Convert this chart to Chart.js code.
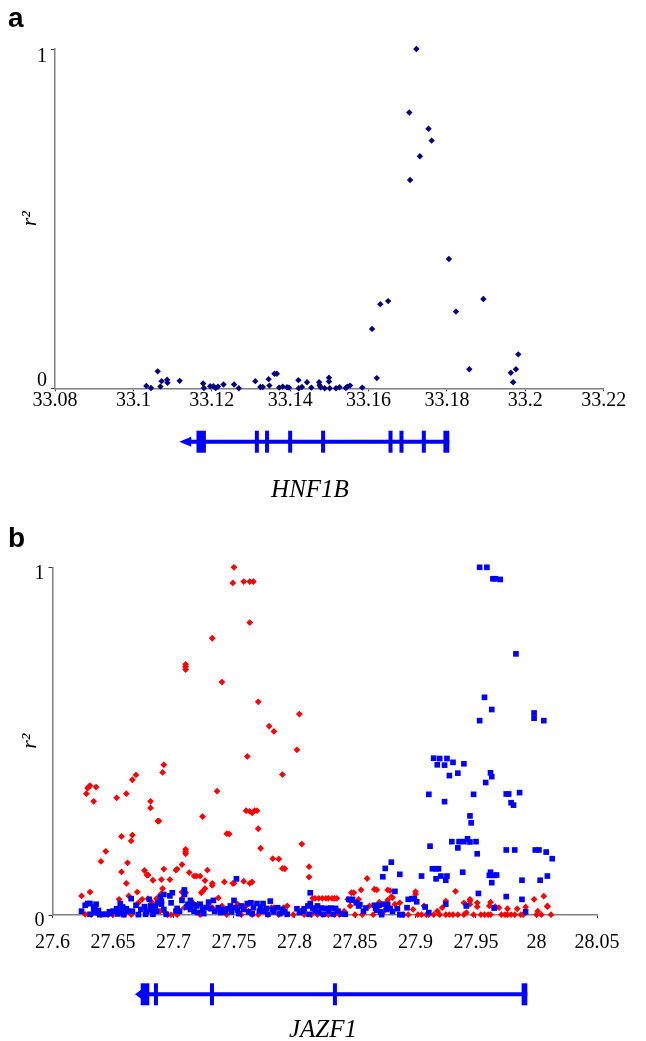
<!DOCTYPE html>
<html>
<head>
<meta charset="utf-8">
<script src="https://cdn.jsdelivr.net/npm/chart.js@4.4.1/dist/chart.umd.min.js"></script>
<style>
  body { margin: 0; background: #fff; }
  #wrap { position: relative; width: 646px; height: 1041px; overflow: hidden; }
  canvas { position: absolute; left: 0; }
  .panel { position: absolute; left: 8px; font: bold 28px "Liberation Sans", Arial, sans-serif; line-height: 28px; }
  .gene { position: absolute; font: italic 25px "Liberation Serif", "Times New Roman", serif; line-height: 25px; transform: translateX(-50%); white-space: nowrap; }
</style>
</head>
<body>
<div id="wrap">
  <canvas id="chart-a" width="646" height="520" style="top:0"></canvas>
  <canvas id="chart-b" width="646" height="521" style="top:520px"></canvas>
  <div class="panel" style="top:4px">a</div>
  <div class="panel" style="top:524px">b</div>
  <div class="gene" style="left:310px;top:476px">HNF1B</div>
  <div class="gene" style="left:323px;top:1016px">JAZF1</div>
</div>
<script>
const SERIF = "'Liberation Serif', 'Times New Roman', serif";
Chart.defaults.font.family = SERIF;
Chart.defaults.color = '#000';

// ---- panel a: HNF1B region (position in Mb, r2) ----
const hnf1bTicks = [33.08, 33.1, 33.12, 33.14, 33.16, 33.18, 33.2, 33.22];
const hnf1bPts = [
  [33.1722, 1.0], [33.1704, 0.813], [33.1753, 0.765], [33.1761, 0.730], [33.1731, 0.684], [33.1706, 0.614],
  [33.1805, 0.381], [33.1893, 0.263], [33.1823, 0.226], [33.1650, 0.257], [33.1630, 0.248], [33.1609, 0.175],
  [33.1621, 0.030], [33.1857, 0.056], [33.1982, 0.100], [33.1976, 0.056], [33.1963, 0.046], [33.1969, 0.018],
  [33.1584, 0.002], [33.1033, 0.007], [33.1045, 0.001], [33.1062, 0.050], [33.1069, 0.005], [33.1072, 0.021],
  [33.1086, 0.025], [33.1087, 0.016], [33.1118, 0.022], [33.1178, 0.014], [33.1180, 0.001], [33.1196, 0.006],
  [33.1204, 0.006], [33.1210, 0.001], [33.1216, 0.005], [33.1230, 0.011], [33.1257, 0.011], [33.1269, 0.000],
  [33.1311, 0.021], [33.1324, 0.004], [33.1330, 0.004], [33.1345, 0.027], [33.1347, 0.008], [33.1360, 0.043],
  [33.1366, 0.043], [33.1372, 0.002], [33.1381, 0.005], [33.1392, 0.003], [33.1397, 0.002], [33.1421, 0.024],
  [33.1422, 0.000], [33.1430, 0.004], [33.1443, 0.018], [33.1454, 0.002], [33.1474, 0.018], [33.1475, 0.009],
  [33.1478, 0.003], [33.1488, 0.000], [33.1499, 0.031], [33.1499, 0.020], [33.1501, 0.000], [33.1517, 0.000],
  [33.1526, 0.003], [33.1542, 0.001], [33.1546, 0.005], [33.1553, 0.008]
];
const hnf1bSpan = [33.1117, 33.1806];           // arrow tip .. 3' end
const hnf1bBlocks = [[33.1161, 33.1185], [33.1791, 33.1806]];
const hnf1bExons = [33.1315, 33.1341, 33.1400, 33.1484, 33.1656, 33.1684, 33.1741];

// ---- panel b: JAZF1 region ----
const jazf1Ticks = [27.6, 27.65, 27.7, 27.75, 27.8, 27.85, 27.9, 27.95, 28, 28.05];
const redPts = [
  [27.750, 1.000], [27.749, 0.955], [27.758, 0.959], [27.763, 0.959], [27.766, 0.959], [27.763, 0.841],
  [27.732, 0.796], [27.710, 0.721], [27.710, 0.714], [27.710, 0.706], [27.740, 0.670], [27.770, 0.613],
  [27.804, 0.578], [27.779, 0.543], [27.783, 0.528], [27.802, 0.475], [27.761, 0.456], [27.692, 0.432],
  [27.691, 0.410], [27.669, 0.403], [27.666, 0.389], [27.790, 0.404], [27.630, 0.369], [27.629, 0.365],
  [27.628, 0.349], [27.631, 0.372], [27.636, 0.368], [27.634, 0.327], [27.653, 0.337], [27.661, 0.349],
  [27.736, 0.356], [27.681, 0.327], [27.681, 0.308], [27.687, 0.270], [27.688, 0.270], [27.724, 0.283],
  [27.760, 0.300], [27.763, 0.298], [27.765, 0.294], [27.767, 0.300], [27.769, 0.300], [27.770, 0.248],
  [27.744, 0.234], [27.746, 0.233], [27.657, 0.226], [27.666, 0.230], [27.665, 0.213], [27.644, 0.183],
  [27.710, 0.189], [27.710, 0.182], [27.710, 0.176], [27.806, 0.204], [27.772, 0.192], [27.640, 0.154],
  [27.662, 0.150], [27.782, 0.162], [27.787, 0.161], [27.707, 0.145], [27.790, 0.134], [27.792, 0.133],
  [27.812, 0.139], [27.657, 0.124], [27.676, 0.128], [27.678, 0.115], [27.679, 0.115], [27.692, 0.132],
  [27.702, 0.129], [27.703, 0.132], [27.713, 0.122], [27.717, 0.112], [27.719, 0.112], [27.722, 0.112],
  [27.728, 0.129], [27.661, 0.091], [27.683, 0.100], [27.690, 0.102], [27.697, 0.102], [27.726, 0.099],
  [27.732, 0.091], [27.732, 0.085], [27.742, 0.095], [27.749, 0.091], [27.750, 0.091], [27.758, 0.097],
  [27.763, 0.091], [27.765, 0.095], [27.812, 0.109], [27.860, 0.105], [27.624, 0.055], [27.631, 0.066],
  [27.663, 0.055], [27.670, 0.066], [27.691, 0.076], [27.707, 0.066], [27.710, 0.064], [27.723, 0.064],
  [27.724, 0.068], [27.726, 0.076], [27.737, 0.049], [27.855, 0.072], [27.866, 0.074], [27.868, 0.072],
  [27.877, 0.072], [27.879, 0.070], [27.880, 0.052], [27.847, 0.064], [27.849, 0.064], [27.900, 0.067],
  [27.900, 0.060], [27.933, 0.068], [27.815, 0.048], [27.817, 0.048], [27.820, 0.048], [27.823, 0.048],
  [27.826, 0.048], [27.828, 0.048], [27.831, 0.048], [27.833, 0.048], [27.835, 0.048], [27.925, 0.040],
  [27.945, 0.045], [27.945, 0.040], [27.940, 0.035], [27.951, 0.035], [27.962, 0.037], [27.966, 0.024],
  [27.961, 0.026], [27.998, 0.045], [28.006, 0.054], [28.009, 0.024], [27.991, 0.023], [27.984, 0.018],
  [27.976, 0.018],
  [27.627, 0.002], [27.632, 0.001], [27.636, 0.007], [27.640, 0.001], [27.646, 0.001], [27.650, 0.001],
  [27.655, 0.045], [27.656, 0.021], [27.659, 0.001], [27.665, 0.001], [27.671, 0.035], [27.674, 0.045],
  [27.676, 0.021], [27.679, 0.047], [27.682, 0.037], [27.684, 0.007], [27.686, 0.047], [27.689, 0.011],
  [27.690, 0.062], [27.692, 0.011], [27.695, 0.001], [27.698, 0.001], [27.703, 0.001], [27.707, 0.047],
  [27.709, 0.021], [27.713, 0.026], [27.716, 0.035], [27.720, 0.031], [27.722, 0.001], [27.725, 0.021],
  [27.729, 0.026], [27.732, 0.021], [27.735, 0.011], [27.740, 0.026], [27.744, 0.001], [27.748, 0.021],
  [27.753, 0.031], [27.756, 0.001], [27.760, 0.026], [27.762, 0.011], [27.765, 0.001], [27.770, 0.001],
  [27.772, 0.021], [27.775, 0.011], [27.778, 0.001], [27.781, 0.021], [27.783, 0.021], [27.787, 0.001],
  [27.791, 0.021], [27.794, 0.026], [27.799, 0.001], [27.805, 0.011], [27.808, 0.001], [27.814, 0.001],
  [27.819, 0.001], [27.823, 0.001], [27.828, 0.001], [27.833, 0.001], [27.837, 0.001], [27.841, 0.011],
  [27.844, 0.045], [27.846, 0.026], [27.850, 0.001], [27.853, 0.045], [27.856, 0.001], [27.862, 0.026],
  [27.865, 0.001], [27.870, 0.037], [27.874, 0.011], [27.877, 0.043], [27.881, 0.050], [27.883, 0.031],
  [27.887, 0.035], [27.890, 0.001], [27.894, 0.001], [27.898, 0.016], [27.902, 0.001], [27.905, 0.001],
  [27.907, 0.026], [27.909, 0.001], [27.911, 0.001], [27.915, 0.001], [27.918, 0.011], [27.920, 0.001],
  [27.922, 0.021], [27.925, 0.001], [27.928, 0.001], [27.931, 0.001], [27.935, 0.001], [27.940, 0.001],
  [27.942, 0.007], [27.945, 0.031], [27.948, 0.001], [27.951, 0.024], [27.954, 0.001], [27.957, 0.001],
  [27.960, 0.001], [27.962, 0.001], [27.965, 0.021], [27.969, 0.021], [27.971, 0.001], [27.974, 0.001],
  [27.976, 0.001], [27.979, 0.001], [27.982, 0.001], [27.987, 0.001], [27.989, 0.001], [28.000, 0.001],
  [28.001, 0.011], [28.004, 0.001], [28.009, 0.026], [28.012, 0.001]
];
const bluePts = [
  [27.953, 1.000], [27.959, 1.000], [27.964, 0.967], [27.966, 0.967], [27.970, 0.965], [27.983, 0.751],
  [27.957, 0.626], [27.963, 0.591], [27.953, 0.559], [27.998, 0.581], [27.998, 0.566], [28.006, 0.559],
  [27.915, 0.451], [27.920, 0.450], [27.926, 0.450], [27.918, 0.432], [27.924, 0.431], [27.931, 0.439],
  [27.940, 0.435], [27.928, 0.401], [27.935, 0.408], [27.962, 0.409], [27.963, 0.398], [27.958, 0.381],
  [27.911, 0.347], [27.948, 0.347], [27.975, 0.348], [27.977, 0.348], [27.986, 0.352], [27.924, 0.326],
  [27.979, 0.323], [27.981, 0.316], [27.945, 0.285], [27.946, 0.265], [27.912, 0.198], [27.930, 0.211],
  [27.936, 0.211], [27.940, 0.211], [27.943, 0.219], [27.945, 0.210], [27.950, 0.211], [27.935, 0.193],
  [27.951, 0.176], [27.975, 0.187], [27.982, 0.187], [27.999, 0.187], [28.002, 0.187], [28.008, 0.181],
  [28.013, 0.162], [27.880, 0.152], [27.875, 0.134], [27.887, 0.117], [27.873, 0.110], [27.905, 0.112],
  [27.914, 0.133], [27.917, 0.133], [27.919, 0.133], [27.917, 0.104], [27.921, 0.112], [27.926, 0.112],
  [27.925, 0.100], [27.939, 0.123], [27.962, 0.123], [27.961, 0.114], [27.965, 0.114], [27.967, 0.115],
  [27.963, 0.093], [27.988, 0.100], [28.003, 0.100], [28.009, 0.112], [27.752, 0.104], [27.813, 0.064],
  [27.883, 0.068], [27.975, 0.053], [27.988, 0.045], [27.952, 0.062],
  [27.624, 0.011], [27.627, 0.028], [27.629, 0.033], [27.631, 0.033], [27.631, 0.002], [27.634, 0.018],
  [27.635, 0.024], [27.636, 0.031], [27.635, 0.007], [27.638, 0.013], [27.639, 0.001], [27.642, 0.002],
  [27.644, 0.002], [27.647, 0.009], [27.648, 0.004], [27.650, 0.011], [27.653, 0.018], [27.654, 0.003],
  [27.656, 0.033], [27.657, 0.007], [27.658, 0.023], [27.659, 0.001], [27.661, 0.018], [27.662, 0.011],
  [27.665, 0.047], [27.666, 0.011], [27.669, 0.028], [27.671, 0.001], [27.673, 0.016], [27.676, 0.024],
  [27.677, 0.002], [27.678, 0.011], [27.680, 0.045], [27.681, 0.026], [27.682, 0.016], [27.683, 0.002],
  [27.685, 0.026], [27.686, 0.011], [27.687, 0.035], [27.689, 0.052], [27.690, 0.040], [27.690, 0.031],
  [27.692, 0.059], [27.692, 0.016], [27.694, 0.002], [27.697, 0.055], [27.698, 0.035], [27.699, 0.064],
  [27.702, 0.011], [27.703, 0.019], [27.705, 0.011], [27.707, 0.042], [27.709, 0.072], [27.709, 0.059],
  [27.711, 0.023], [27.712, 0.031], [27.714, 0.042], [27.714, 0.016], [27.716, 0.029], [27.717, 0.011],
  [27.719, 0.026], [27.720, 0.007], [27.722, 0.031], [27.724, 0.016], [27.725, 0.004], [27.727, 0.021],
  [27.729, 0.037], [27.731, 0.018], [27.733, 0.042], [27.734, 0.011], [27.737, 0.021], [27.739, 0.007],
  [27.741, 0.016], [27.743, 0.009], [27.745, 0.018], [27.747, 0.026], [27.748, 0.009], [27.750, 0.042],
  [27.751, 0.021], [27.753, 0.014], [27.754, 0.004], [27.756, 0.026], [27.758, 0.016], [27.761, 0.033],
  [27.762, 0.009], [27.764, 0.035], [27.765, 0.004], [27.766, 0.021], [27.769, 0.033], [27.771, 0.011],
  [27.772, 0.023], [27.774, 0.033], [27.775, 0.011], [27.777, 0.019], [27.778, 0.002], [27.780, 0.040],
  [27.782, 0.016], [27.783, 0.009], [27.786, 0.021], [27.788, 0.004], [27.790, 0.016], [27.792, 0.009],
  [27.794, 0.002], [27.802, 0.018], [27.804, 0.007], [27.807, 0.011], [27.808, 0.018], [27.811, 0.026],
  [27.812, 0.002], [27.813, 0.033], [27.815, 0.020], [27.817, 0.011], [27.819, 0.026], [27.820, 0.007],
  [27.822, 0.020], [27.824, 0.002], [27.826, 0.019], [27.828, 0.011], [27.830, 0.020], [27.832, 0.002],
  [27.834, 0.019], [27.836, 0.011], [27.839, 0.003], [27.842, 0.002], [27.845, 0.045], [27.847, 0.043],
  [27.848, 0.045], [27.851, 0.035], [27.853, 0.026], [27.854, 0.030], [27.857, 0.011], [27.859, 0.020],
  [27.866, 0.028], [27.867, 0.020], [27.868, 0.014], [27.870, 0.028], [27.871, 0.009], [27.872, 0.001],
  [27.874, 0.031], [27.876, 0.016], [27.877, 0.030], [27.879, 0.019], [27.881, 0.010], [27.885, 0.018],
  [27.887, 0.001], [27.889, 0.001], [27.893, 0.021], [27.894, 0.045], [27.897, 0.047], [27.899, 0.047],
  [27.901, 0.038], [27.908, 0.023], [27.911, 0.007], [27.925, 0.031], [27.942, 0.026], [27.965, 0.020],
  [27.991, 0.009]
];
const jazf1Span = [27.6682, 27.9924];
const jazf1Blocks = [[27.6729, 27.6800], [27.9877, 27.9924]];
const jazf1Exons = [27.6855, 27.7318, 27.8334];

const toXY = pts => pts.map(([x, y]) => ({ x, y }));

// gene model drawn under the x axis, placed with the chart's own x scale
function genePlugin(span, blocks, exons, y, arrowLen) {
  return {
    id: 'gene',
    afterDraw(chart) {
      const ctx = chart.ctx;
      const px = v => chart.scales.x.getPixelForValue(v);
      const h = 22;
      ctx.save();
      ctx.fillStyle = '#0000ff';
      ctx.strokeStyle = '#0000ff';
      ctx.lineWidth = 4;
      const tip = px(span[0]);
      ctx.beginPath();
      ctx.moveTo(tip + arrowLen - 1, y);
      ctx.lineTo(px(span[1]), y);
      ctx.stroke();
      ctx.beginPath();
      ctx.moveTo(tip, y);
      ctx.lineTo(tip + arrowLen, y - 5);
      ctx.lineTo(tip + arrowLen, y + 5);
      ctx.closePath();
      ctx.fill();
      blocks.forEach(([a, b]) => ctx.fillRect(px(a), y - h / 2, px(b) - px(a), h));
      exons.forEach(v => ctx.fillRect(px(v) - 2, y - h / 2, 4, h));
      ctx.restore();
    }
  };
}

function lociChart(id, datasets, xTicks, cfg) {
  return new Chart(document.getElementById(id), {
    type: 'scatter',
    data: { datasets },
    options: {
      responsive: false,
      animation: false,
      devicePixelRatio: 1,
      layout: { padding: cfg.padding },
      plugins: { legend: { display: false }, tooltip: { enabled: false } },
      scales: {
        x: {
          type: 'linear',
          min: xTicks[0],
          max: xTicks[xTicks.length - 1],
          afterBuildTicks: s => { s.ticks = xTicks.map(v => ({ value: v })); },
          afterFit: s => { s.height = 40; },
          border: { color: '#7f7f7f', width: 1.5 },
          grid: { drawOnChartArea: false, color: '#333', tickLength: 3 },
          ticks: {
            color: '#000',
            autoSkip: false,
            maxRotation: 0,
            padding: cfg.xPad,
            font: { family: SERIF, size: 20, lineHeight: 1 },
            callback: v => String(+v.toFixed(2))
          }
        },
        y: {
          min: 0,
          max: 1,
          afterBuildTicks: s => { s.ticks = [{ value: 0 }, { value: 1 }]; },
          afterFit: s => { s.width = cfg.yWidth; },
          border: { color: '#7f7f7f', width: 1.5 },
          grid: { drawOnChartArea: false, color: '#333', tickLength: 4 },
          title: {
            display: true, text: 'r²', color: '#000', padding: { top: 9 },
            font: { family: SERIF, size: 22, style: 'italic' }
          },
          ticks: {
            color: '#000',
            padding: 4,
            labelOffset: cfg.yLabelOffset,
            font: { family: SERIF, size: 20, lineHeight: 0.75 },
            callback: cfg.yLabel
          }
        }
      }
    },
    plugins: [cfg.gene]
  });
}

lociChart('chart-a', [{
  data: toXY(hnf1bPts),
  backgroundColor: '#000080',
  pointStyle: 'rectRot',
  pointRadius: 3.2,
  pointBorderWidth: 0,
  clip: false
}], hnf1bTicks, {
  padding: { left: 8, top: 49, right: 42.3, bottom: 91.7 },
  yWidth: 47,
  xPad: -1,
  yLabelOffset: 0,
  yLabel: v => v === 1 ? ['', '1'] : ['0', ''],
  gene: genePlugin(hnf1bSpan, hnf1bBlocks, hnf1bExons, 441.7, 12)
});

lociChart('chart-b', [{
  data: toXY(bluePts),
  backgroundColor: '#0000ff',
  pointStyle: 'rect',
  pointRadius: 4,
  pointBorderWidth: 0,
  clip: false
}, {
  data: toXY(redPts),
  backgroundColor: '#ff0000',
  pointStyle: 'rectRot',
  pointRadius: 3.4,
  pointBorderWidth: 0,
  clip: false
}], jazf1Ticks, {
  padding: { left: 8, top: 47.3, right: 49, bottom: 86 },
  yWidth: 44.5,
  xPad: 14.5,
  yLabelOffset: 6,
  yLabel: v => String(v),
  gene: genePlugin(jazf1Span, jazf1Blocks, jazf1Exons, 474.3, 6.7)
});
</script>
</body>
</html>
